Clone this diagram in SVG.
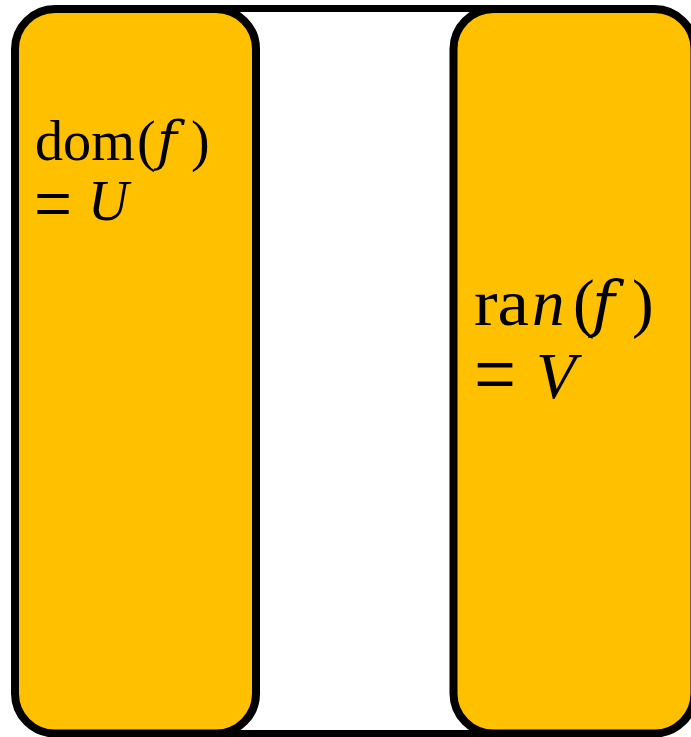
<svg xmlns="http://www.w3.org/2000/svg" width="691" height="737" viewBox="0 0 691 737">
<style>
.frame{fill:#FFFFFF;stroke:#000000;stroke-width:7}
.set{fill:#FFC000;stroke:#000000;stroke-width:8}
.lbl{font-family:"Liberation Serif","DejaVu Serif",serif;fill:#000000}
.it{font-style:italic}
.fn{font-family:"DejaVu Serif","Liberation Serif",serif;font-style:italic}
</style>
<g id="frame"><rect class="frame" x="120" y="8.5" width="450" height="725"/></g>
<g id="connectors"></g>
<g id="domain">
<rect class="set" x="15" y="9" width="241" height="724.5" rx="40" ry="40"/>
<text class="lbl" font-size="56" y="160"><tspan x="35" textLength="100" lengthAdjust="spacingAndGlyphs">dom</tspan><tspan x="137">(</tspan></text>
<text class="lbl fn" font-size="54" x="157" y="160">f</text>
<text class="lbl" font-size="56" x="191" y="160">)</text>
<text class="lbl" font-size="80" x="34" y="231" textLength="38" lengthAdjust="spacingAndGlyphs">=</text>
<text class="lbl it" font-size="56" x="88" y="220">U</text>
</g>
<g id="range">
<rect class="set" x="453.5" y="9" width="241" height="724.5" rx="40" ry="40"/>
<text class="lbl" font-size="65" y="325"><tspan x="474" textLength="55" lengthAdjust="spacingAndGlyphs">ra</tspan><tspan x="532" class="it">n</tspan><tspan x="573">(</tspan></text>
<text class="lbl fn" font-size="62" x="592" y="325">f</text>
<text class="lbl" font-size="65" x="632" y="325">)</text>
<text class="lbl" font-size="90" x="474" y="405" textLength="42" lengthAdjust="spacingAndGlyphs">=</text>
<text class="lbl it" font-size="65" x="536" y="398">V</text>
</g>
</svg>
